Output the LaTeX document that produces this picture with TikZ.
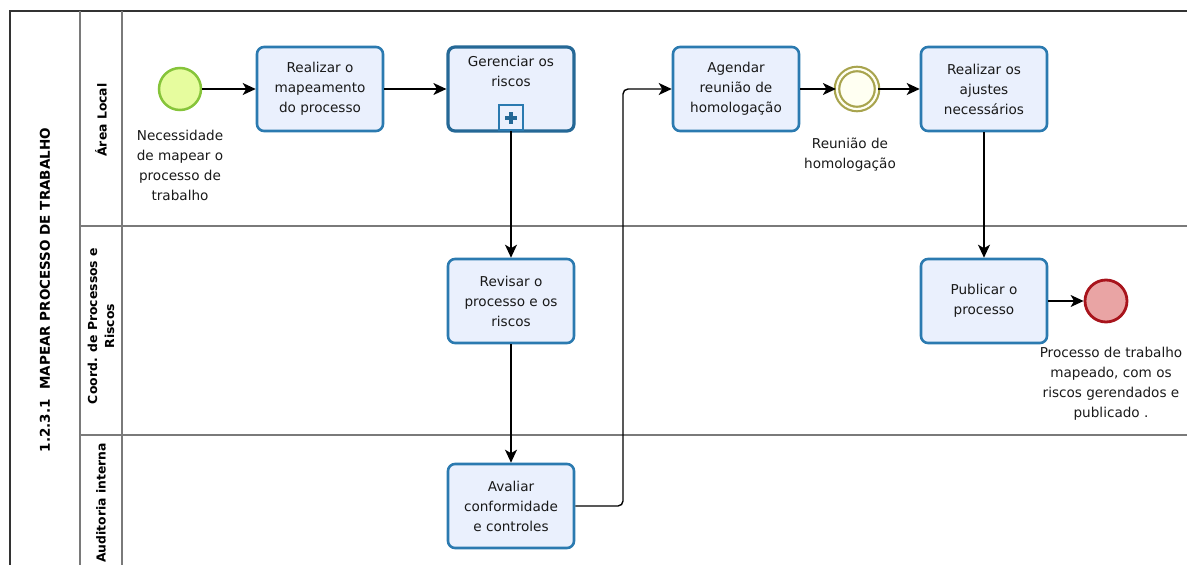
\documentclass[tikz,border=0pt]{standalone}
\usepackage{fontspec}
\setmainfont{DejaVu Sans}
\usetikzlibrary{arrows.meta,positioning}
\definecolor{taskfill}{HTML}{EAF0FD}
\definecolor{taskdraw}{HTML}{2B7AB0}
\definecolor{lanegray}{HTML}{7A7A7A}
\definecolor{startfill}{HTML}{E6FC9E}
\definecolor{startdraw}{HTML}{86C43A}
\definecolor{interdraw}{HTML}{A8A44E}
\definecolor{interfill}{HTML}{FFFFF2}
\definecolor{endfill}{HTML}{E9A4A4}
\definecolor{enddraw}{HTML}{A8141C}
\tikzset{
  task/.style={draw=taskdraw, fill=taskfill, line width=2.6pt, rounded corners=7pt,
    minimum width=126pt, minimum height=84pt, align=center, inner sep=2pt,
    font=\fontsize{13.6}{20}\selectfont, text=black!90},
  flow/.style={line width=1.4pt, draw=black, -{Stealth[length=13pt,width=12pt,inset=3.5pt]}},
  lbl/.style={align=center, font=\fontsize{13.6}{20}\selectfont, text=black!90},
  lane/.style={draw=lanegray, line width=1.4pt},
  lanelbl/.style={rotate=90, align=center, font=\bfseries\fontsize{12.4}{17}\selectfont}
}
\begin{document}
\begin{tikzpicture}[x=1pt,y=-1pt]
\useasboundingbox (0,0) rectangle (1187,565);
% pool and lanes
\draw[draw=black!80, line width=1.4pt] (1187,11) -- (10,11) -- (10,565);
\draw[lane] (80,11) -- (80,565);
\draw[lane] (122,11) -- (122,565);
\draw[lane] (80,226) -- (1187,226);
\draw[lane] (80,435) -- (1187,435);
\node[rotate=90, font=\bfseries\fontsize{13.5}{16}\selectfont] (pool) at (45,290) {1.2.3.1 \ MAPEAR PROCESSO DE TRABALHO};
\node[lanelbl] (l1) at (101,120) {Área Local};
\node[lanelbl] (l2) at (101,326) {Coord. de Processos e\\Riscos};
\node[lanelbl] (l3) at (101,503) {Auditoria interna};
% events
\node[circle, draw=startdraw, fill=startfill, line width=2.5pt, minimum size=42pt, inner sep=0pt] (start) at (180,89) {};
\node[lbl, anchor=north] (startl) at (180,127) {Necessidade\\de mapear o\\processo de\\trabalho};
\node[circle, draw=interdraw, fill=interfill, line width=2.2pt, minimum size=40pt, inner sep=0pt, double=interfill, double distance=2.2pt] (inter) at (857,89) {};
\node[lbl, anchor=north] (interl) at (850,134) {Reunião de\\homologação};
\node[circle, draw=enddraw, fill=endfill, line width=2.8pt, minimum size=42pt, inner sep=0pt] (end) at (1106,301) {};
\node[lbl, anchor=north] (endl) at (1111,344) {Processo de trabalho\\mapeado, com os\\riscos gerendados e\\publicado .};
% tasks
\node[task] (t1) at (320,89) {Realizar o\\mapeamento\\do processo};
\node[task, line width=3.2pt, draw=taskdraw!85!black] (t2) at (511,89) {};
\node[lbl, anchor=north] (t2l) at (511,53) {Gerenciar os\\riscos};
\node[draw=taskdraw, fill=taskfill, line width=1.6pt, minimum width=24pt, minimum height=25pt, inner sep=0pt, anchor=south] (mk) at (511,131) {};
\draw[taskdraw!85!black, line width=3.6pt] ([yshift=-6pt]mk.center) -- ([yshift=6pt]mk.center) ([xshift=-6pt]mk.center) -- ([xshift=6pt]mk.center);
\node[task] (t3) at (736,89) {Agendar\\reunião de\\homologação};
\node[task] (t4) at (984,89) {Realizar os\\ajustes\\necessários};
\node[task] (t5) at (511,301) {Revisar o\\processo e os\\riscos};
\node[task] (t6) at (984,301) {Publicar o\\processo};
\node[task] (t7) at (511,506) {Avaliar\\conformidade\\e controles};
% flows
\draw[flow] (start) -- (t1);
\draw[flow] (t1) -- (t2);
\draw[flow] (mk.south) -- (t5);
\draw[flow] (t5) -- (t7);
\coordinate (c1) at (623,506);
\coordinate (c2) at (623,89);
\draw[flow, rounded corners=5pt] (t7.east) -- (c1) -- (c2) -- (t3.west);
\draw[flow] (t3) -- (inter);
\draw[flow] (inter) -- (t4);
\draw[flow] (t4) -- (t6);
\draw[flow] (t6) -- (end);
\end{tikzpicture}
\end{document}
